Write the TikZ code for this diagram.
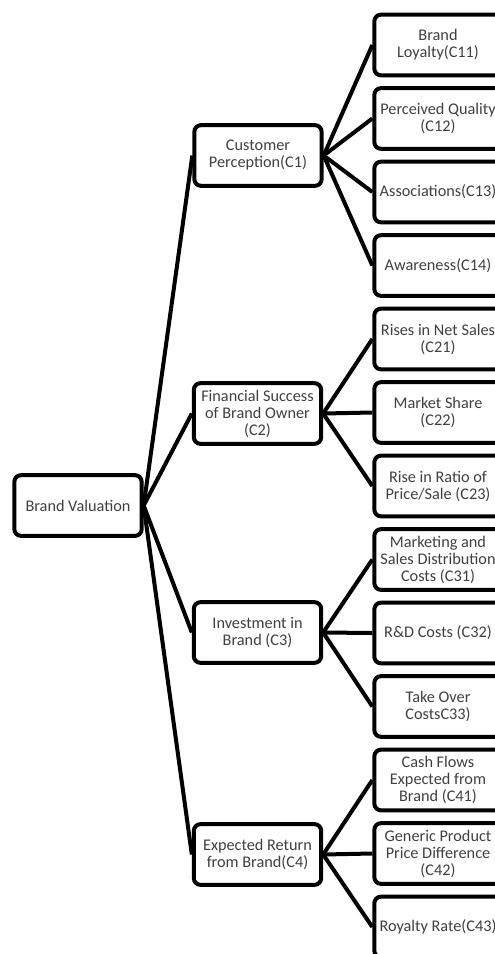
\documentclass[tikz,border=0pt]{standalone}
\usepackage{fontspec}
\setmainfont{Carlito}
\usetikzlibrary{backgrounds}
\begin{document}
\begin{tikzpicture}[x=0.75pt,y=-0.75pt,
    crit/.style={draw,line width=3pt,rounded corners=5pt,fill=white,align=center,
      minimum width=95.5pt,minimum height=45.5pt,inner xsep=0pt,inner ysep=1pt,
      font=\fontsize{12.2}{12.75}\selectfont,text=black!75},
    link/.style={line width=3pt}]
\useasboundingbox (0,0) rectangle (495,954);
\clip (0,0) rectangle (495,954);
% root
\node[crit] (bv) at (78,505.5) {Brand Valuation};
% criteria
\node[crit] (c1) at (258,155.5) {Customer\\Perception(C1)};
\node[crit] (c2) at (257.5,413.5) {Financial Success\\of Brand Owner\\(C2)};
\node[crit] (c3) at (257.5,632.5) {Investment in\\Brand (C3)};
\node[crit] (c4) at (257.5,854.5) {Expected Return\\from Brand(C4)};
% sub-criteria
\node[crit] (c11) at (438,45) {Brand\\Loyalty(C11)};
\node[crit] (c12) at (438,118.5) {Perceived Quality\\(C12)};
\node[crit] (c13) at (438,192) {Associations(C13)};
\node[crit] (c14) at (438,265.5) {Awareness(C14)};
\node[crit] (c21) at (438,339) {Rises in Net Sales\\(C21)};
\node[crit] (c22) at (438,412.5) {Market Share\\(C22)};
\node[crit] (c23) at (438,486) {Rise in Ratio of\\Price/Sale (C23)};
\node[crit] (c31) at (438,559.5) {Marketing and\\Sales Distribution\\Costs (C31)};
\node[crit] (c32) at (438,633) {R\&D Costs (C32)};
\node[crit] (c33) at (438,706.5) {Take Over\\CostsC33)};
\node[crit] (c41) at (438,780) {Cash Flows\\Expected from\\Brand (C41)};
\node[crit] (c42) at (438,853.5) {Generic Product\\Price Difference\\(C42)};
\node[crit] (c43) at (438,927) {Royalty Rate(C43)};
\begin{scope}[on background layer]
\foreach \c in {c1,c2,c3,c4}
  \draw[link] (bv.east) -- (\c.west);
\foreach \c in {c11,c12,c13,c14}
  \draw[link] (c1.east) -- (\c.west);
\foreach \c in {c21,c22,c23}
  \draw[link] (c2.east) -- (\c.west);
\foreach \c in {c31,c32,c33}
  \draw[link] (c3.east) -- (\c.west);
\foreach \c in {c41,c42,c43}
  \draw[link] (c4.east) -- (\c.west);
\end{scope}
\end{tikzpicture}
\end{document}
